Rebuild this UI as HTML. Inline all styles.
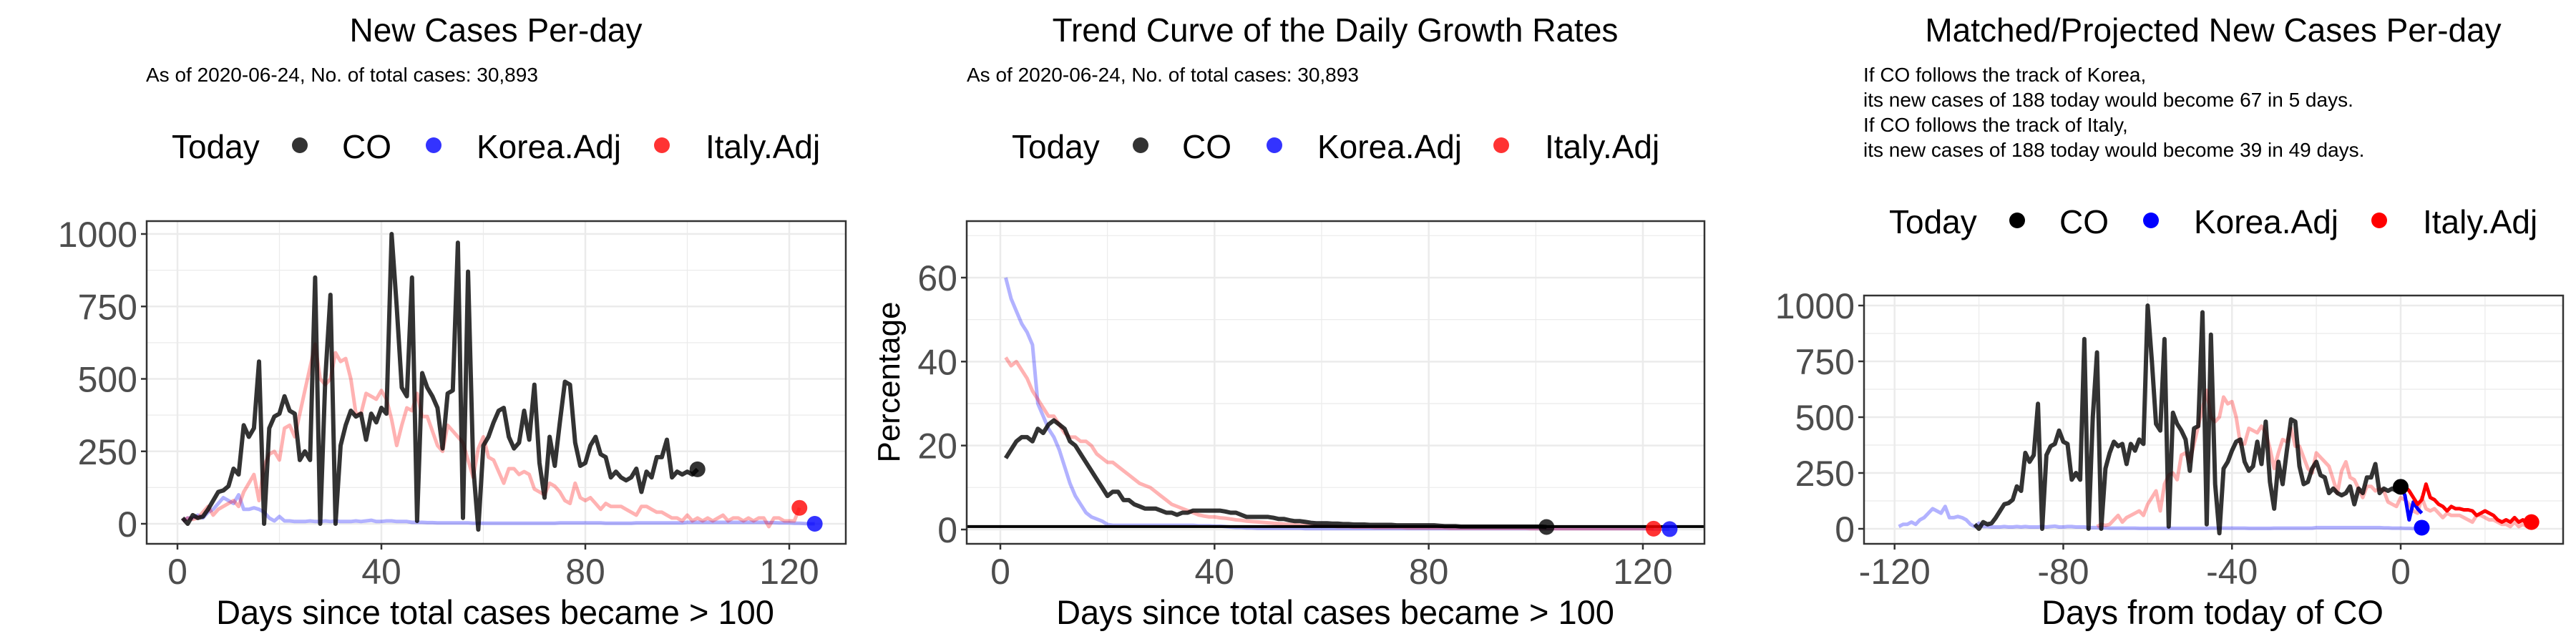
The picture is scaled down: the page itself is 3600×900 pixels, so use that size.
<!DOCTYPE html>
<html><head><meta charset="utf-8"><style>
html,body{margin:0;padding:0;background:#fff;}
svg{display:block;font-family:"Liberation Sans",sans-serif;}
</style></head><body>
<svg id="chart" width="3600" height="900" viewBox="0 0 3600 900" xmlns="http://www.w3.org/2000/svg"></svg>
<script>
// ---- data ----
const coNew = [20,0,30,20,25,50,80,110,115,130,190,170,340,300,330,560,0,330,370,380,440,390,380,220,250,220,850,0,500,790,0,270,340,390,370,380,290,380,350,400,380,1000,750,470,440,850,10,520,470,440,400,260,450,460,970,20,870,200,-20,270,300,350,390,400,300,260,280,390,290,480,210,90,300,200,350,490,480,280,200,210,270,300,240,230,160,180,160,150,160,190,110,180,160,230,230,290,160,180,170,180,170,188];
const koreaNew = [10,20,20,30,20,40,50,70,90,80,70,100,50,50,55,50,40,20,10,25,10,10,8,8,8,10,8,8,10,8,10,8,8,8,10,8,10,12,8,8,10,10,8,8,8,5,5,5,4,4,3,3,3,3,3,3,3,2,2,2,2,2,2,2,2,2,2,2,2,2,2,2,2,2,3,3,3,3,3,3,3,3,3,2,2,2,2,2,2,3,3,3,3,3,3,3,3,3,3,5,5,5,5,5,5,5,5,5,5,5,5,5,5,5,5,4,4,3,3,3,2,2,1,0,0];
const italyNew = [10,20,15,20,40,60,30,50,60,70,80,60,110,140,170,80,200,240,250,220,330,340,300,380,460,540,620,500,480,500,590,560,570,500,380,380,450,440,430,460,430,360,270,340,400,390,450,370,370,320,270,250,340,320,300,280,220,160,260,300,230,220,180,140,190,190,170,180,170,120,110,100,140,130,110,80,70,140,90,80,90,70,50,70,60,60,60,50,40,30,60,60,50,40,40,30,20,20,10,30,10,20,10,20,10,20,30,10,20,20,10,20,10,20,20,-10,20,20,10,10,10,55];
const coRate = [17,19,21,22,22,21,24,23,25,26,25,24,21,20,18,16,14,12,10,8,9,9,7,7,6,5.5,5,5,5,4.5,4,4,3.5,4,4,4.5,4.5,4.5,4.5,4.5,4.5,4.3,4,4,3.5,3,3,3,3,3,2.8,2.5,2.5,2.2,2,2,1.8,1.6,1.5,1.5,1.5,1.4,1.4,1.3,1.3,1.2,1.2,1.2,1.1,1.1,1.1,1.1,1.1,1,1,1,1,1,1,1,1,0.9,0.8,0.8,0.8,0.7,0.7,0.7,0.7,0.7,0.7,0.7,0.7,0.7,0.7,0.7,0.7,0.7,0.7,0.7,0.7,0.6];
const koreaRate = [60,55,52,49,47,44,30,27,24,22,19,15,11,8,6,4,3,2.5,2,1.2,1,1,1,1,1,1,1,1,1,1,1,1,1,1,1,1,0.9,0.9,0.9,0.8,0.8,0.7,0.6,0.5,0.5,0.4,0.4,0.3,0.3,0.3,0.3,0.3,0.3,0.3,0.3,0.3,0.2,0.2,0.2,0.2,0.2,0.2,0.2,0.2,0.2,0.2,0.2,0.2,0.2,0.2,0.2,0.2,0.2,0.2,0.2,0.2,0.2,0.2,0.2,0.2,0.2,0.2,0.2,0.2,0.2,0.2,0.2,0.2,0.2,0.2,0.2,0.2,0.2,0.2,0.2,0.2,0.2,0.2,0.2,0.2,0.2,0.2,0.2,0.2,0.2,0.2,0.2,0.2,0.2,0.2,0.2,0.2,0.2,0.2,0.2,0.2,0.2,0.2,0.2,0.2,0.2,0.1,0.1,0.1,0.1];
const italyRate = [41,39,40,38,36,33,31,29,27,27,25,23,22,22,21,21,20,18,17,16,16,15,14,13,12,11,10.5,10,9,8,7,6,5.5,5,4.5,4,3.5,3.2,3,3,2.8,2.7,2.5,2.3,2.2,2,1.9,1.8,1.7,1.6,1.5,1.4,1.3,1.2,1.1,1,1,0.9,0.9,0.8,0.8,0.8,0.7,0.7,0.7,0.6,0.6,0.6,0.6,0.5,0.5,0.5,0.5,0.5,0.5,0.4,0.4,0.4,0.4,0.4,0.4,0.4,0.4,0.3,0.3,0.3,0.3,0.3,0.3,0.3,0.3,0.3,0.3,0.3,0.3,0.3,0.3,0.3,0.2,0.2,0.2,0.2,0.2,0.2,0.2,0.2,0.2,0.2,0.2,0.2,0.2,0.2,0.2,0.2,0.2,0.2,0.2,0.2,0.2,0.2,0.2,0.2];
const koreaProj = [188,150,40,120,90,70];
const koreaProjDot = 5;
const italyProj = [188,190,170,140,110,130,200,140,130,110,100,80,100,90,90,85,85,80,60,70,80,70,60,40,30,40,30,50,30,40,20,30];
const xTicks1 = [0,40,80,120];
const yTicks1 = [0,250,500,750,1000];
const yTicks2 = [0,20,40,60];
const xTicks3 = [-120,-80,-40,0];
const shiftCO = -102, shiftKorea = -120, shiftItaly = -73;

const svg = document.getElementById('chart');
const NS = 'http://www.w3.org/2000/svg';
function mk(tag, attrs, parent){const e=document.createElementNS(NS,tag);for(const k in attrs)e.setAttribute(k,attrs[k]);(parent||svg).appendChild(e);return e;}
function txt(s, attrs, parent){const e=mk('text',attrs,parent);e.textContent=s;return e;}

function panel(p){
  const g = mk('g',{});
  
  
  const X=v=>p.x0+(v-p.xd0)*p.xs, Y=v=>p.y0-(v-p.yd0)*p.ys;
  mk('rect',{x:p.L,y:p.T,width:p.R-p.L,height:p.B-p.T,fill:'#fff'},g);
  p.xMinor.forEach(v=>mk('line',{x1:X(v),x2:X(v),y1:p.T,y2:p.B,stroke:'#ebebeb','stroke-width':1.2},g));
  p.yMinor.forEach(v=>mk('line',{x1:p.L,x2:p.R,y1:Y(v),y2:Y(v),stroke:'#ebebeb','stroke-width':1.2},g));
  p.xt.forEach(v=>mk('line',{x1:X(v),x2:X(v),y1:p.T,y2:p.B,stroke:'#ebebeb','stroke-width':2.5},g));
  p.yt.forEach(v=>mk('line',{x1:p.L,x2:p.R,y1:Y(v),y2:Y(v),stroke:'#ebebeb','stroke-width':2.5},g));
  p.draw(g,X,Y);
  mk('rect',{x:p.L,y:p.T,width:p.R-p.L,height:p.B-p.T,fill:'none',stroke:'#333','stroke-width':2.5},g);
  p.xt.forEach(v=>{
    mk('line',{x1:X(v),x2:X(v),y1:p.B,y2:p.B+8,stroke:'#333','stroke-width':2.5},g);
    const t=txt(String(v),{x:X(v),y:p.B+56,'text-anchor':'middle','font-size':50,fill:'#4d4d4d'},g);
    
    
  });
  p.yt.forEach(v=>{
    mk('line',{x1:p.L-8,x2:p.L,y1:Y(v),y2:Y(v),stroke:'#333','stroke-width':2.5},g);
    const t=txt(String(v),{x:p.L-13,y:Y(v)+18,'text-anchor':'end','font-size':50,fill:'#4d4d4d'},g);
    
    
  });
  return {X,Y,g};
}
function line(g,xs,ys,color,w,name){
  let d='';let pen=false;
  for(let i=0;i<xs.length;i++){if(ys[i]==null){pen=false;continue;}d+=(pen?'L':'M')+xs[i].toFixed(1)+','+ys[i].toFixed(1);pen=true;}
  const e=mk('path',{d,fill:'none',stroke:color,'stroke-width':w,'stroke-linejoin':'round'},g);
  
  
  return e;
}
function dot(g,x,y,color,name){
  const e=mk('circle',{cx:x,cy:y,r:11,fill:color},g);
  
  
}
function series(g,X,Y,arr,shift,color,w,name){
  const xs=[],ys=[];
  arr.forEach((v,i)=>{xs.push(X(i+1+shift));ys.push(v==null?null:Y(v));});
  return line(g,xs,ys,color,w,name);
}
const BLK='rgba(0,0,0,0.8)', BLF='rgba(0,0,255,0.3)', RDF='rgba(255,0,0,0.3)', BLD='rgba(0,0,255,0.8)', RDD='rgba(255,0,0,0.8)';

function header(cx,title,sub,lx,legY,solid){
  const t=txt(title,{x:cx,y:58,'text-anchor':'middle','font-size':46,fill:'#000'});
  
  
  sub.lines.forEach((s,i)=>{
    const e=txt(s,{x:sub.x,y:sub.y+i*35,'font-size':28,fill:'#000'});
    
    
  });
  const L=mk('g',{});
  
  
  txt('Today',{x:lx[0],y:legY+18,'font-size':46,fill:'#000'},L);
  const cols=solid?['#000','#00f','#f00']:[BLK,BLD,RDD];
  const labs=['CO','Korea.Adj','Italy.Adj'];
  const names=['legend-entry-co','legend-entry-korea','legend-entry-italy'];
  for(let i=0;i<3;i++){
    const e=mk('g',{},L);
    
    
    mk('circle',{cx:lx[1+2*i],cy:legY,r:11,fill:cols[i]},e);
    txt(labs[i],{x:lx[2+2*i],y:legY+18,'font-size':46,fill:'#000'},e);
  }
}

// Panel 1
header(693,'New Cases Per-day',{x:204,y:114,lines:['As of 2020-06-24, No. of total cases: 30,893']},[240,419,478,606,666,925,986],203,false);
{
  panel({name:'new-cases-panel',L:205,R:1182,T:309,B:760,x0:248,xd0:0,xs:7.125,y0:732,yd0:0,ys:0.405,
    xt:xTicks1,yt:yTicks1,xMinor:[20,60,100],yMinor:[125,375,625,875],
    draw:(g,X,Y)=>{
      series(g,X,Y,koreaNew,0,BLF,5,'korea-line');
      series(g,X,Y,italyNew,0,RDF,5,'italy-line');
      series(g,X,Y,coNew,0,BLK,6,'co-line');
      dot(g,X(italyNew.length),Y(italyNew[italyNew.length-1]),RDD,'italy-today-dot');
      dot(g,X(koreaNew.length),Y(koreaNew[koreaNew.length-1]),BLD,'korea-today-dot');
      dot(g,X(coNew.length),Y(coNew[coNew.length-1]),BLK,'co-today-dot');
    }});
  const t=txt('Days since total cases became > 100',{x:692,y:872,'text-anchor':'middle','font-size':47,fill:'#000'});
  
  
}
// Panel 2
header(1866,'Trend Curve of the Daily Growth Rates',{x:1351,y:114,lines:['As of 2020-06-24, No. of total cases: 30,893']},[1414,1594,1652,1781,1841,2098,2159],203,false);
{
  panel({name:'growth-rate-panel',L:1351,R:2382,T:309,B:760,x0:1398,xd0:0,xs:7.483,y0:740,yd0:0,ys:5.867,
    xt:xTicks1,yt:yTicks2,xMinor:[20,60,100],yMinor:[10,30,50,70],
    draw:(g,X,Y)=>{
      series(g,X,Y,koreaRate,0,BLF,5,'korea-line');
      series(g,X,Y,italyRate,0,RDF,5,'italy-line');
      series(g,X,Y,coRate,0,BLK,6,'co-line');
      const h=mk('line',{x1:1351,x2:2382,y1:Y(0.7),y2:Y(0.7),stroke:'#000','stroke-width':4},g);
      
      
      dot(g,X(italyRate.length),Y(italyRate[italyRate.length-1]),RDD,'italy-today-dot');
      dot(g,X(koreaRate.length),Y(koreaRate[koreaRate.length-1]),BLD,'korea-today-dot');
      dot(g,X(coRate.length),Y(coRate[coRate.length-1]),BLK,'co-today-dot');
    }});
  const t=txt('Days since total cases became > 100',{x:1866,y:872,'text-anchor':'middle','font-size':47,fill:'#000'});
  
  
  const yl=txt('Percentage',{x:0,y:0,'text-anchor':'middle','font-size':44,fill:'#000',transform:'translate(1257,534) rotate(-90)'});
  
  
}
// Panel 3
header(3093,'Matched/Projected New Cases Per-day',{x:2604,y:114,lines:['If CO follows the track of Korea,','its new cases of 188 today would become 67 in 5 days.','If CO follows the track of Italy,','its new cases of 188 today would become 39 in 49 days.']},[2640,2819,2878,3006,3066,3325,3386],308,true);
{
  panel({name:'projection-panel',L:2605,R:3582,T:413,B:760,x0:3355,xd0:0,xs:5.894,y0:739,yd0:0,ys:0.312,
    xt:xTicks3,yt:yTicks1,xMinor:[-100,-60,-20,20],yMinor:[125,375,625,875],
    draw:(g,X,Y)=>{
      series(g,X,Y,koreaNew,shiftKorea,BLF,5,'korea-matched-line');
      const itl=italyNew.slice(0,italyProj.length-1-shiftItaly);
      series(g,X,Y,itl,shiftItaly,RDF,5,'italy-matched-line');
      series(g,X,Y,coNew,shiftCO,BLK,6,'co-line');
      line(g,koreaProj.map((v,i)=>X(i)),koreaProj.map(v=>Y(v)),'#00f',5,'korea-projection-line');
      line(g,italyProj.map((v,i)=>X(i)),italyProj.map(v=>Y(v)),'#f00',5,'italy-projection-line');
      dot(g,X(0),Y(coNew[coNew.length-1]),'#000','co-today-dot');
      dot(g,X(koreaProj.length-1),Y(koreaProjDot),'#00f','korea-projected-dot');
      dot(g,X(italyProj.length-1),Y(italyProj[italyProj.length-1]),'#f00','italy-projected-dot');
    }});
  const t=txt('Days from today of CO',{x:3092,y:872,'text-anchor':'middle','font-size':47,fill:'#000'});
  
  
}
</script>
</body></html>
